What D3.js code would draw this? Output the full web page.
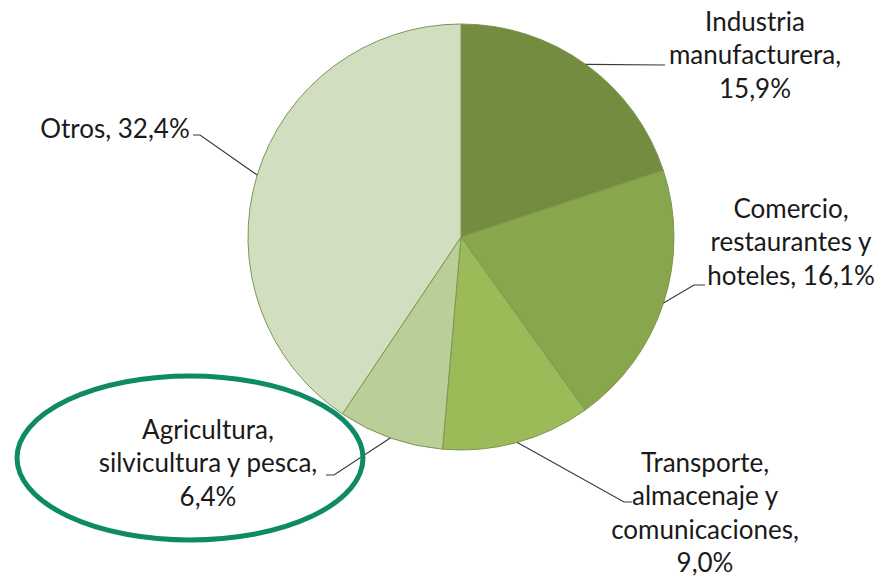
<!DOCTYPE html>
<html>
<head>
<meta charset="utf-8">
<script src="https://cdn.jsdelivr.net/npm/d3@7"></script>
<style>
  body { margin: 0; background: #fff; }
  text { font-family: Lato, "Open Sans", sans-serif; fill: #1a1a1a; }
</style>
</head>
<body>
<script>
// data
var categories = ["Industria manufacturera", "Comercio, restaurantes y hoteles",
    "Transporte, almacenaje y comunicaciones", "Agricultura, silvicultura y pesca", "Otros"];
var values = [15.9, 16.1, 9.0, 6.4, 32.4];
var colors = ["#738c3f", "#88a64b", "#9bbb59", "#b9cf97", "#d2dec0"];

// how each label is wrapped (value gets appended)
var nameLines = [
    ["Industria", "manufacturera,"],
    ["Comercio,", "restaurantes y", "hoteles,"],
    ["Transporte,", "almacenaje y", "comunicaciones,"],
    ["Agricultura,", "silvicultura y pesca,"],
    ["Otros,"]
];
var valueOnNewLine = [true, false, true, true, false];

// label placement (manual, like the original)
var labelLayout = [
    {x: 755, y: 31,  leader: [[665, 65]]},
    {x: 791, y: 218, leader: [[694, 285], [705, 285]]},
    {x: 705, y: 472, leader: [[624, 502], [632, 502]]},
    {x: 208, y: 439, leader: [[334, 475], [326, 475]]},
    {x: 115, y: 138, leader: [[200, 135], [193, 135]]}
];

var width = 881, height = 577;
var cx = 461, cy = 237, radius = 213;
var lineH = 33.3;

var svg = d3.select("body").append("svg")
    .attr("width", width)
    .attr("height", height);

var fmt = function (v) { return d3.format(".1f")(v).replace(".", ",") + "%"; };

var pie = d3.pie().sort(null).value(function (d) { return d; });
var arcs = pie(values);
var arc = d3.arc().innerRadius(0).outerRadius(radius);

var g = svg.append("g").attr("transform", "translate(" + cx + "," + cy + ")");

g.selectAll("path.slice")
    .data(arcs)
    .enter().append("path")
    .attr("class", "slice")
    .attr("d", arc)
    .attr("fill", function (d, i) { return colors[i]; })
    .attr("stroke", "#7d9655")
    .attr("stroke-width", 1);

// leader lines start at the middle of each slice on the rim
var rim = d3.arc().innerRadius(radius).outerRadius(radius);
var line = d3.line();

arcs.forEach(function (d, i) {
    var c = rim.centroid(d);
    var pts = [[cx + c[0], cy + c[1]]].concat(labelLayout[i].leader);
    svg.append("path")
        .attr("d", line(pts))
        .attr("fill", "none")
        .attr("stroke", "#3a3a3a")
        .attr("stroke-width", 1.2);
});

// labels
arcs.forEach(function (d, i) {
    var lines = nameLines[i].slice();
    if (valueOnNewLine[i]) lines.push(fmt(values[i]));
    else lines[lines.length - 1] += " " + fmt(values[i]);
    var t = svg.append("text")
        .attr("text-anchor", "middle")
        .attr("font-size", 26);
    lines.forEach(function (s, j) {
        t.append("tspan")
            .attr("x", labelLayout[i].x)
            .attr("y", labelLayout[i].y + j * lineH)
            .text(s);
    });
});

// highlight ellipse round the agriculture label
svg.append("ellipse")
    .attr("cx", 190)
    .attr("cy", 458)
    .attr("rx", 173)
    .attr("ry", 82)
    .attr("fill", "none")
    .attr("stroke", "#0e8b65")
    .attr("stroke-width", 5);
</script>
</body>
</html>
